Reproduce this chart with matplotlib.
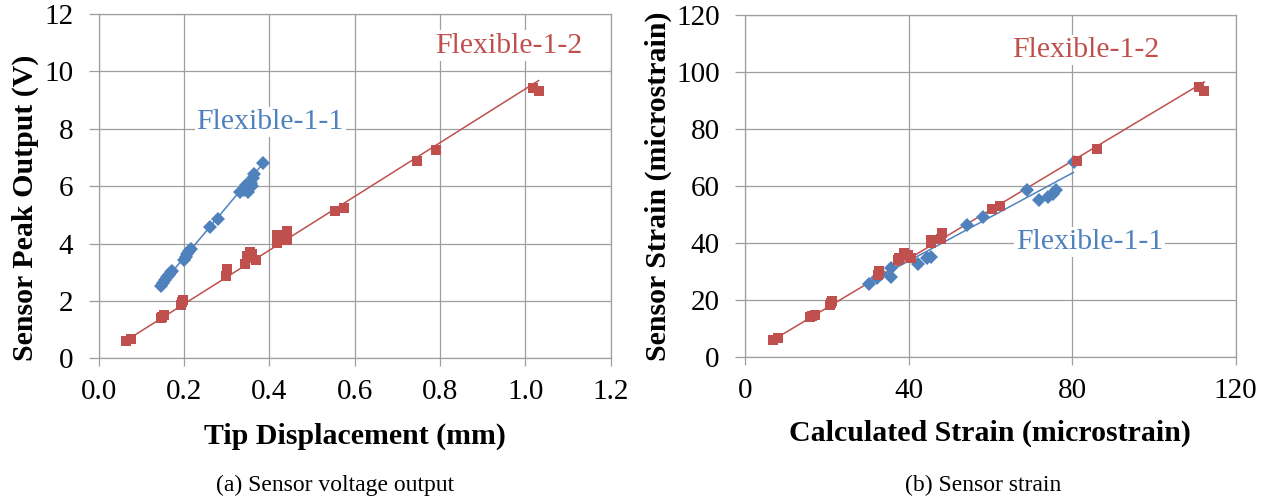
import numpy as np
import matplotlib
matplotlib.use("Agg")
import matplotlib.pyplot as plt

# ---------------- data ----------------
# (a) Sensor voltage output
a_blue_x = [0.145, 0.150, 0.155, 0.160, 0.165, 0.170, 0.172, 0.200, 0.204, 0.208, 0.212, 0.216,
            0.262, 0.279, 0.331, 0.340, 0.345, 0.350, 0.352, 0.356, 0.360, 0.362, 0.365, 0.386]
a_blue_y = [2.53, 2.62, 2.72, 2.82, 2.92, 3.00, 3.06, 3.42, 3.54, 3.65, 3.75, 3.82,
            4.58, 4.87, 5.79, 5.85, 6.05, 5.80, 5.95, 6.10, 6.00, 6.29, 6.43, 6.80]
a_red_x = [0.063, 0.075, 0.145, 0.149, 0.152, 0.192, 0.195, 0.197, 0.299, 0.301, 0.343, 0.347,
           0.355, 0.360, 0.368, 0.419, 0.419, 0.441, 0.441, 0.554, 0.575, 0.746, 0.791, 1.018, 1.031]
a_red_y = [0.61, 0.69, 1.40, 1.45, 1.50, 1.85, 1.95, 2.03, 2.86, 3.10, 3.30, 3.56,
           3.71, 3.65, 3.42, 4.02, 4.31, 4.12, 4.44, 5.14, 5.24, 6.86, 7.25, 9.43, 9.30]
# linear trendlines (end points)
a_blue_fit_x = [0.142, 0.388]
a_blue_fit_y = [2.48, 6.84]
a_red_fit_x = [0.060, 1.031]
a_red_fit_y = [0.58, 9.68]

# (b) Sensor strain
b_blue_x = [30.4, 32.4, 33.2, 35.7, 35.8, 42.4, 44.4, 45.5, 54.4, 58.1, 68.9, 71.8, 74.2, 75.2, 76.0, 80.5]
b_blue_y = [25.5, 27.5, 29.2, 31.2, 28.1, 32.5, 34.5, 35.1, 46.2, 49.1, 58.5, 55.2, 56.2, 57.3, 58.5, 68.3]
b_red_x = [6.8, 8.1, 15.8, 16.5, 17.0, 20.8, 21.0, 21.3, 32.5, 32.7, 37.3, 37.7, 38.9, 39.8, 40.6,
           45.5, 45.6, 47.9, 48.1, 60.3, 62.4, 81.1, 86.1, 111.1, 112.3]
b_red_y = [5.7, 6.7, 13.8, 14.2, 14.5, 18.0, 18.8, 19.7, 28.6, 30.0, 33.9, 34.5, 36.3, 35.7, 34.5,
           39.8, 41.0, 41.5, 43.3, 51.7, 52.9, 68.9, 73.0, 94.7, 93.2]
b_blue_fit_x = [29.8, 80.3]
b_blue_fit_y = [25.7, 64.7]
b_red_fit_x = [6.1, 112.3]
b_red_fit_y = [5.2, 96.5]

series_names = ["Flexible-1-1", "Flexible-1-2"]
a_xticks = [0.0, 0.2, 0.4, 0.6, 0.8, 1.0, 1.2]
a_yticks = [0, 2, 4, 6, 8, 10, 12]
b_xticks = [0, 40, 80, 120]
b_yticks = [0, 20, 40, 60, 80, 100, 120]

# ---------------- style ----------------
BLUE = "#4F81BD"
RED = "#C0504D"
GRID = "#9f9f9f"
plt.rcParams["font.family"] = ["Liberation Serif", "DejaVu Serif"]

W, H = 1268, 499
fig = plt.figure(figsize=(W / 100, H / 100), dpi=100)

def px_axes(x0, x1, ytop, ybot):
    return fig.add_axes([x0 / W, 1 - ybot / H, (x1 - x0) / W, (ybot - ytop) / H])

ax1 = px_axes(98.7, 610.7, 14.0, 358.3)
ax2 = px_axes(745.0, 1235.7, 15.0, 356.7)

def style(ax, xticks, yticks, xfmt):
    ax.set_xlim(xticks[0], xticks[-1])
    ax.set_ylim(yticks[0], yticks[-1])
    ax.set_xticks(xticks)
    ax.set_yticks(yticks)
    ax.set_xticklabels([xfmt(v) for v in xticks])
    ax.set_yticklabels([str(v) for v in yticks])
    ax.grid(True, color=GRID, linewidth=0.9)
    ax.set_axisbelow(True)
    for s in ax.spines.values():
        s.set_color(GRID)
        s.set_linewidth(0.9)
    ax.tick_params(axis="both", direction="out", color=GRID, width=0.9, labelsize=21)
    ax.tick_params(axis="x", length=6, pad=9)
    ax.tick_params(axis="y", length=7.2, pad=11)

style(ax1, a_xticks, a_yticks, lambda v: f"{v:.1f}")
style(ax2, b_xticks, b_yticks, lambda v: f"{v:d}")

panels = [
    (ax1, a_blue_x, a_blue_y, a_red_x, a_red_y, a_blue_fit_x, a_blue_fit_y, a_red_fit_x, a_red_fit_y),
    (ax2, b_blue_x, b_blue_y, b_red_x, b_red_y, b_blue_fit_x, b_blue_fit_y, b_red_fit_x, b_red_fit_y),
]
for ax, bx, by, rx, ry, bfx, bfy, rfx, rfy in panels:
    ax.plot(bfx, bfy, color=BLUE, linewidth=1.1, zorder=2)
    ax.plot(rfx, rfy, color=RED, linewidth=1.1, zorder=2)
    ax.plot(bx, by, linestyle="none", marker="D", markersize=7.2, color=BLUE,
            markeredgewidth=0, zorder=3)
    ax.plot(rx, ry, linestyle="none", marker="s", markersize=7.0, color=RED,
            markeredgewidth=0, zorder=3)

box = dict(facecolor="white", edgecolor="none", pad=1.5)
ax1.text(0.402, 8.23, series_names[0], color=BLUE, fontsize=21.5, ha="center", va="center", bbox=box, zorder=4)
ax1.text(0.962, 10.9, series_names[1], color=RED, fontsize=21.5, ha="center", va="center", bbox=box, zorder=4)
ax2.text(84.2, 40.3, series_names[0], color=BLUE, fontsize=21.5, ha="center", va="center", bbox=box, zorder=4)
ax2.text(83.4, 107.7, series_names[1], color=RED, fontsize=21.5, ha="center", va="center", bbox=box, zorder=4)

# axis labels
ax1.set_xlabel("Tip Displacement (mm)", fontsize=21.5, fontweight="bold")
ax1.set_ylabel("Sensor Peak Output (V)", fontsize=21.5, fontweight="bold")
ax2.set_xlabel("Calculated Strain (microstrain)", fontsize=21.5, fontweight="bold")
ax2.set_ylabel("Sensor Strain (microstrain)", fontsize=21.5, fontweight="bold")
for ax in (ax1, ax2):
    ax.xaxis.label.set_va("center")
    ax.yaxis.label.set_va("center")
    ax.yaxis.label.set_ha("center")
ax1.xaxis.set_label_coords(0.5, (358.3 - 436.7) / 344.3)
ax1.yaxis.set_label_coords((25 - 98.7) / 512.0, (358.3 - 207.5) / 344.3)
ax2.xaxis.set_label_coords(0.5, (356.7 - 433.0) / 341.7)
ax2.yaxis.set_label_coords((658 - 745.0) / 490.7, 0.5)

# captions
fig.text(335 / W, 1 - 485 / H, "(a) Sensor voltage output", fontsize=17, ha="center", va="center")
fig.text(983 / W, 1 - 485 / H, "(b) Sensor strain", fontsize=17, ha="center", va="center")

fig.savefig("out.png", dpi=100)
